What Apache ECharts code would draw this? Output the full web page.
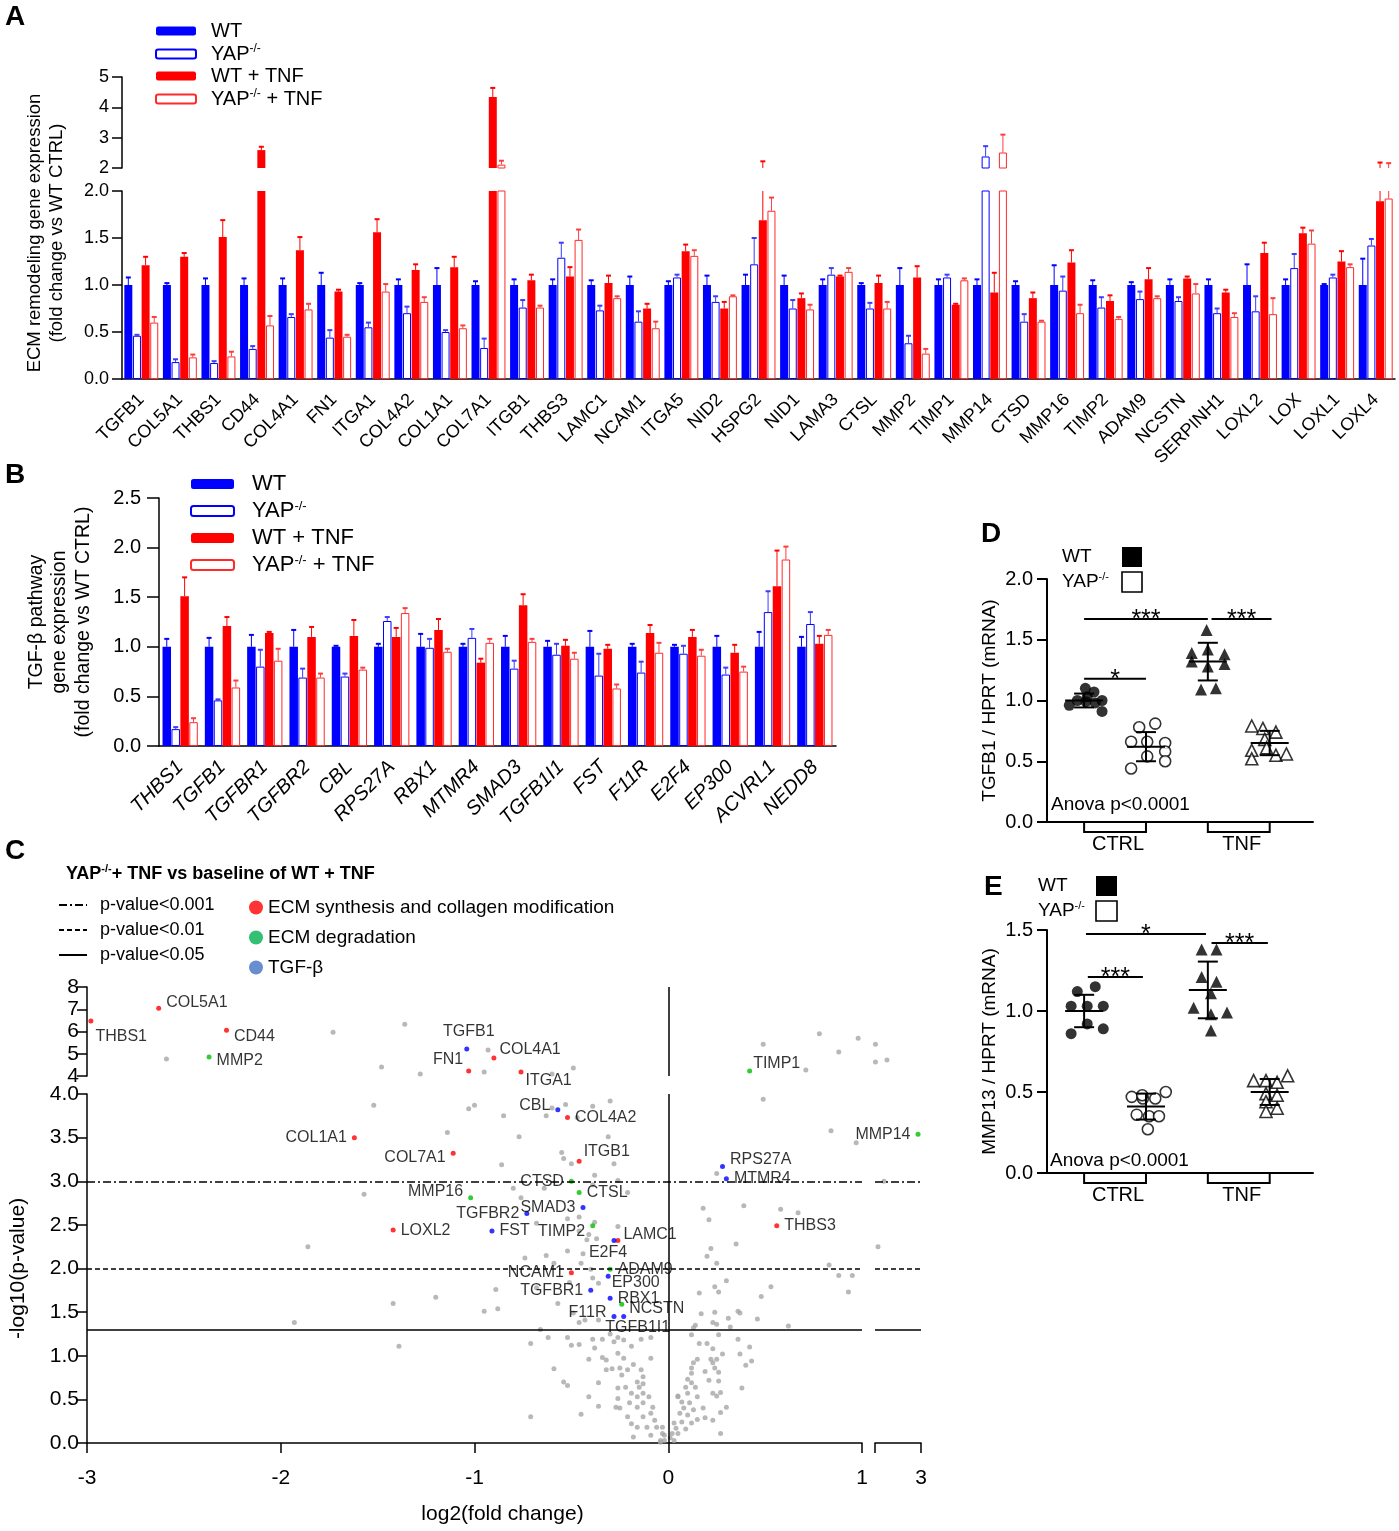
<!DOCTYPE html>
<html><head><meta charset="utf-8">
<script src="https://cdn.jsdelivr.net/npm/echarts@6/dist/echarts.min.js"></script>
<style>html,body{margin:0;padding:0;background:#fff}#c{width:1399px;height:1531px}</style>
</head><body><div id="c"></div>
<script>
// ---------------- DATA ----------------
// Panel A: ECM remodeling genes
const ecmGenes = ['TGFB1','COL5A1','THBS1','CD44','COL4A1','FN1','ITGA1','COL4A2','COL1A1','COL7A1','ITGB1','THBS3','LAMC1','NCAM1','ITGA5','NID2','HSPG2','NID1','LAMA3','CTSL','MMP2','TIMP1','MMP14','CTSD','MMP16','TIMP2','ADAM9','NCSTN','SERPINH1','LOXL2','LOX','LOXL1','LOXL4'];
const ecmWT       = [1,1,1,1,1,1,1,1,1,1,1,1,1,1,1,1,1,1,1,1,1,1,1,1,1,1,1,1,1,1,1,1,1];
const ecmWTerr    = [1.08,1.02,1.07,1.07,1.07,1.13,1.02,1.06,1.18,1.04,1.06,1.06,1.05,1.09,1.04,1.10,1.11,1.10,1.06,1.02,1.18,1.06,1.06,1.04,1.21,1.05,1.03,1.06,1.06,1.22,1.06,1.01,1.28];
const ecmYAP      = [0.46,0.18,0.17,0.32,0.66,0.44,0.55,0.70,0.50,0.33,0.76,1.29,0.73,0.61,1.08,0.82,1.22,0.75,1.11,0.75,0.38,1.08,2.38,0.61,0.94,0.76,0.85,0.83,0.70,0.72,1.18,1.08,1.42];
const ecmYAPerr   = [0.47,0.21,0.19,0.35,0.69,0.52,0.60,0.77,0.52,0.43,0.84,1.45,0.78,0.72,1.11,0.88,1.50,0.84,1.18,0.81,0.46,1.11,2.72,0.69,1.09,0.87,0.93,0.87,0.75,0.88,1.33,1.11,1.49];
const ecmWTTNF    = [1.21,1.30,1.51,2.59,1.37,0.93,1.56,1.16,1.19,4.34,1.05,1.09,1.02,0.75,1.36,0.75,1.69,0.86,1.09,1.02,1.08,0.79,0.92,0.86,1.24,0.83,1.06,1.07,0.92,1.34,1.55,1.25,1.89];
const ecmWTTNFerr = [1.30,1.34,1.69,2.70,1.51,0.95,1.70,1.22,1.30,4.64,1.11,1.19,1.10,0.80,1.43,0.82,2.22,0.91,1.10,1.10,1.20,0.80,1.13,0.92,1.37,0.89,1.18,1.09,0.95,1.45,1.61,1.36,2.18];
const ecmYAPTNF   = [0.60,0.23,0.24,0.57,0.74,0.45,0.93,0.82,0.54,2.11,0.76,1.48,0.86,0.54,1.31,0.88,1.79,0.74,1.14,0.75,0.27,1.05,2.51,0.61,0.70,0.64,0.86,0.91,0.66,0.69,1.44,1.19,1.92];
const ecmYAPTNFerr= [0.66,0.26,0.29,0.67,0.80,0.47,1.01,0.87,0.57,2.24,0.78,1.59,0.88,0.61,1.37,0.89,1.93,0.79,1.18,0.82,0.32,1.07,3.10,0.62,0.79,0.66,0.88,1.01,0.70,0.86,1.58,1.22,2.16];

// Panel B: TGF-beta pathway genes
const tgfGenes = ['THBS1','TGFB1','TGFBR1','TGFBR2','CBL','RPS27A','RBX1','MTMR4','SMAD3','TGFB1I1','FST','F11R','E2F4','EP300','ACVRL1','NEDD8'];
const tgfWT        = [1,1,1,1,1,1,1,1,1,1,1,1,1,1,1,1];
const tgfWTerr     = [1.08,1.09,1.12,1.17,1.01,1.03,1.13,1.03,1.11,1.06,1.16,1.03,1.02,1.11,1.15,1.10];
const tgfYAP       = [0.17,0.46,0.80,0.69,0.70,1.26,0.99,1.09,0.78,0.92,0.71,0.74,0.93,0.72,1.35,1.23];
const tgfYAPerr    = [0.19,0.47,0.97,0.78,0.73,1.30,1.08,1.18,0.86,1.03,0.93,0.85,1.01,0.79,1.56,1.35];
const tgfWTTNF     = [1.51,1.21,1.14,1.10,1.11,1.10,1.17,0.84,1.42,1.01,0.98,1.14,1.10,0.94,1.61,1.03];
const tgfWTTNFerr  = [1.70,1.30,1.15,1.20,1.27,1.19,1.28,0.88,1.53,1.07,1.02,1.22,1.17,1.02,1.97,1.11];
const tgfYAPTNF    = [0.24,0.59,0.86,0.69,0.77,1.34,0.95,1.04,1.05,0.88,0.58,0.94,0.91,0.75,1.88,1.12];
const tgfYAPTNFerr = [0.28,0.66,0.98,0.73,0.79,1.39,0.98,1.08,1.08,0.94,0.62,1.04,0.97,0.80,2.01,1.17];

const seriesNames = ['WT','YAP-/-','WT + TNF','YAP-/- + TNF'];

// Panel C: volcano (log2 fold change, -log10 p)
const synthNames = ['THBS1','COL5A1','CD44','FN1','COL4A1','ITGA1','COL4A2','COL1A1','COL7A1','ITGB1','LOXL2','LAMC1','NCAM1','THBS3'];
const synthFC    = [-2.98,-2.63,-2.28,-1.03,-0.90,-0.76,-0.52,-1.62,-1.11,-0.46,-1.42,-0.26,-0.50,0.56];
const synthP     = [6.47,7.05,6.06,4.22,4.81,4.18,3.73,3.50,3.32,3.23,2.44,2.32,1.95,2.49];
const degrNames  = ['MMP2','CTSD','CTSL','MMP16','TIMP2','ADAM9','NCSTN','TIMP1','MMP14'];
const degrFC     = [-2.37,-0.50,-0.46,-1.02,-0.39,-0.30,-0.24,0.42,2.87];
const degrP      = [4.85,3.00,2.87,2.81,2.49,1.99,1.59,4.22,3.54];
const tgfbNames  = ['TGFB1','CBL','SMAD3','TGFBR2','FST','E2F4','EP300','TGFBR1','RBX1','F11R','TGFB1I1','RPS27A','MTMR4'];
const tgfbFC     = [-1.04,-0.57,-0.44,-0.73,-0.91,-0.28,-0.31,-0.40,-0.30,-0.28,-0.23,0.28,0.30];
const tgfbP      = [5.21,3.82,2.70,2.63,2.43,2.32,1.91,1.75,1.66,1.45,1.45,3.17,3.03];
const otherGenes = [
[-2.59,4.76],[-1.73,5.97],[-1.36,6.33],[-1.48,4.40],[-1.28,4.09],[-0.93,5.17],[-0.95,4.18],[-0.60,4.09],[-0.49,4.36],
[0.49,5.43],[0.78,5.90],[0.98,5.70],[0.88,5.08],[0.71,4.27],[1.02,5.43],[1.02,4.63],[1.52,4.72],
[-1.52,3.87],[-1.03,3.83],[-1.00,3.87],[-0.85,3.75],[-0.63,3.75],[-0.53,3.88],[-0.47,3.73],[-0.39,3.86],[-0.30,3.92],[-0.60,3.84],
[-1.14,3.56],[-0.77,3.51],[-0.31,3.51],[-0.55,3.33],[-0.54,3.26],[-0.50,3.20],[-0.86,3.19],[-0.28,3.20],[-0.38,3.07],[-0.26,3.01],
[-1.57,2.85],[-0.80,2.92],[-0.64,2.92],[-0.39,2.96],[-0.21,2.87],[-0.76,2.81],[-0.46,2.59],[-0.68,2.52],[-0.52,2.57],[-0.38,2.53],[-0.26,2.48],
[-1.86,2.25],[-0.46,2.43],[-0.42,2.33],[-0.37,2.34],[-0.41,2.39],[-0.52,2.20],[-0.74,2.12],[-0.63,2.15],[-0.44,2.17],[-0.59,2.06],[-0.45,2.06],[-0.40,1.99],
[-0.89,1.76],[-0.95,1.51],[-0.88,1.54],[-0.68,1.78],[-0.51,1.84],[-0.39,1.89],[-0.36,1.83],[-0.57,1.60],[-0.49,1.49],[-0.46,1.38],[-0.43,1.41],[-0.36,1.41],
[-1.93,1.38],[-1.39,1.11],[-1.42,1.60],[-1.20,1.67],
[-0.66,1.30],[-0.71,1.14],[-0.62,1.21],[-0.52,1.21],[-0.50,1.12],[-0.46,1.13],[-0.39,1.19],[-0.38,1.09],[-0.34,1.19],[-0.30,1.25],[-0.28,1.16],[-0.26,1.21],[-0.23,1.18],[-0.19,1.11],[-0.14,1.19],[-0.09,1.21],
[-0.34,0.98],[-0.32,0.95],[-0.41,0.96],[-0.26,1.03],[-0.23,0.97],[-0.18,0.90],[-0.09,0.97],[-0.59,0.85],[-0.32,0.84],[-0.29,0.85],[-0.25,0.86],[-0.24,0.78],[-0.21,0.84],[-0.14,0.84],[-0.13,0.76],
[-0.54,0.70],[-0.52,0.66],[-0.36,0.69],[-0.26,0.63],[-0.22,0.64],[-0.16,0.70],[-0.15,0.64],[-0.13,0.68],[-0.41,0.53],[-0.26,0.51],[-0.19,0.57],[-0.16,0.53],[-0.13,0.57],[-0.10,0.53],
[-0.20,0.46],[-0.16,0.41],[-0.13,0.46],[-0.08,0.41],[-0.36,0.42],[-0.27,0.41],[-0.25,0.40],[-0.71,0.30],[-0.45,0.33],[-0.21,0.30],[-0.13,0.30],[-0.09,0.34],[-0.07,0.26],
[-0.19,0.22],[-0.16,0.18],[-0.11,0.18],[-0.06,0.18],[-0.18,0.07],[-0.09,0.09],[-0.03,0.11],[-0.02,0.03],[-0.04,0.01],[0.03,0.03],[0.05,0.53],
[0.49,3.94],[0.84,3.58],[0.97,3.44],[0.25,3.09],[1.39,3.00],[0.18,2.69],[0.39,2.72],[0.58,2.68],[0.67,2.64],[0.21,2.56],[0.35,2.28],[0.22,2.23],[0.20,2.14],[0.25,2.06],
[0.30,1.86],[0.24,1.79],[0.26,1.73],[0.16,1.72],[0.53,1.79],[0.48,1.68],[0.83,2.04],[0.88,1.92],[0.95,1.92],[0.93,1.73],[1.13,2.25],
[0.17,1.48],[0.24,1.50],[0.23,1.38],[0.25,1.36],[0.31,1.43],[0.36,1.51],[0.37,1.49],[0.32,1.33],[0.46,1.42],[0.62,1.34],[0.14,1.35],[0.13,1.32],[0.12,1.24],
[0.16,1.14],[0.20,1.14],[0.26,1.24],[0.23,1.08],[0.36,1.19],[0.42,1.10],[0.28,1.02],[0.37,1.02],[0.43,0.94],[0.40,0.89],[0.15,0.96],[0.13,0.92],[0.12,0.86],[0.22,0.96],[0.23,0.92],[0.25,0.96],[0.24,0.86],[0.26,0.81],[0.19,0.82],[0.12,0.80],
[0.26,0.71],[0.21,0.72],[0.38,0.63],[0.10,0.73],[0.12,0.69],[0.09,0.64],[0.14,0.64],[0.23,0.57],[0.27,0.58],[0.25,0.54],[0.10,0.57],[0.15,0.53],[0.05,0.54],[0.07,0.47],[0.11,0.46],
[0.30,0.41],[0.27,0.35],[0.08,0.40],[0.13,0.38],[0.18,0.40],[0.06,0.34],[0.10,0.32],[0.15,0.27],[0.19,0.29],[0.23,0.26],[0.03,0.23],[0.07,0.24],[0.12,0.23],[0.04,0.17],[0.09,0.16],[0.02,0.11],[0.05,0.11],[0.01,0.06],[0.27,0.11],[-0.03,0.18],[-0.02,0.09],[-0.04,0.03]
];
const pThresholds = [0.001, 0.01, 0.05];
const thresholdNames = ['p-value<0.001','p-value<0.01','p-value<0.05'];

// Panel D: TGFB1 / HPRT (group position, value)
const dWtCtrl  = [[0.76,0.96],[0.89,1.00],[1.02,1.10],[1.16,1.07],[1.29,1.00],[1.03,0.99],[1.18,0.98],[1.29,0.91],[1.05,1.03]];
const dYapCtrl = [[1.76,0.44],[1.89,0.78],[2.15,0.81],[1.76,0.66],[2.02,0.66],[2.31,0.65],[2.02,0.54],[2.31,0.58],[2.31,0.50]];
const dWtTnf   = [[2.98,1.58],[2.74,1.39],[3.00,1.42],[3.27,1.38],[2.74,1.32],[3.27,1.30],[3.00,1.28],[2.89,1.09],[3.13,1.10]];
const dYapTnf  = [[3.71,0.79],[3.89,0.77],[4.10,0.74],[3.92,0.68],[3.71,0.59],[3.95,0.61],[3.71,0.52],[4.10,0.55],[4.27,0.56]];
const dMean = [1.00,0.62,1.32,0.65];
const dSD   = [0.057,0.12,0.155,0.10];
const dSig  = [[1.0,3.0,1.67,3],[3.06,4.03,1.67,3],[1.0,2.0,1.18,1]];
// Panel E: MMP13 / HPRT
const eWtCtrl  = [[0.89,1.12],[1.18,1.15],[0.79,1.03],[1.05,1.03],[1.31,1.03],[1.05,0.92],[0.79,0.86],[1.31,0.89]];
const eYapCtrl = [[1.77,0.47],[1.95,0.46],[2.15,0.46],[2.32,0.50],[1.85,0.36],[2.05,0.35],[2.21,0.35],[2.03,0.27],[1.94,0.48]];
const eWtTnf   = [[2.90,1.38],[3.14,1.38],[2.90,1.21],[3.14,1.18],[3.05,1.11],[2.77,1.02],[3.31,0.99],[3.05,0.98],[3.05,0.88]];
const eYapTnf  = [[3.74,0.57],[3.94,0.57],[4.12,0.56],[4.29,0.60],[3.94,0.49],[4.12,0.48],[3.94,0.44],[3.94,0.38],[4.12,0.40]];
const eMean = [1.00,0.41,1.13,0.50];
const eSD   = [0.10,0.08,0.175,0.08];
const eSig  = [[1.03,2.97,1.475,1],[3.06,3.97,1.42,3],[1.06,1.95,1.21,3]];
const groupLabels = ['CTRL','TNF'];
const groupSpans  = [[1,2],[3,4]];

// ---------------- STYLE ----------------
const FONT = "'Liberation Sans', Arial, sans-serif";
const labelStyle = {
 THBS1:['right',[-3,16]], COL5A1:['right',[0,-6]], CD44:['right',[0,6]], MMP2:['right',[0,4]],
 TGFB1:['top',[2,-2]], FN1:['left',[2,-12]], COL4A1:['right',[-2,-8]], ITGA1:['right',[-3,9]],
 CBL:['left',[0,-4]], COL4A2:['right',[0,0]], COL1A1:['left',[0,0]], COL7A1:['left',[0,4]],
 ITGB1:['right',[-3,-10]], CTSD:['left',[0,0]], CTSL:['right',[0,0]], MMP16:['left',[0,-6]],
 SMAD3:['left',[0,0]], TGFBR2:['left',[0,0]], TIMP2:['left',[0,6]], FST:['right',[0,0]],
 LOXL2:['right',[0,0]], LAMC1:['right',[-2,-6]], E2F4:['bottom',[-6,-3]], ADAM9:['right',[0,0]],
 NCAM1:['left',[0,0]], EP300:['right',[-4,6]], TGFBR1:['left',[0,0]], RBX1:['right',[0,0]],
 NCSTN:['right',[0,4]], F11R:['left',[0,-4]], TGFB1I1:['bottom',[14,-4]], TIMP1:['right',[-4,-8]],
 MMP14:['left',[0,0]], RPS27A:['right',[0,-7]], MTMR4:['right',[0,0]], THBS3:['right',[0,0]]
};
const barStyles = [
 {color:'#0000ff'},
 {color:'#ffffff', borderColor:'#0000ff', borderWidth:1},
 {color:'#ff0000'},
 {color:'#ffffff', borderColor:'#ff2a2a', borderWidth:1}
];
const errColors = ['#0000ff','#3c3cff','#ff0000','#ff3c3c'];
const AX = {color:'#000', width:1.5};

function richName(name){
  if (name.indexOf('YAP-/-') === 0) {
    const rest = name.slice(6);
    return '{b|YAP}{s|-/-}' + (rest ? '{b|' + rest + '}' : '');
  }
  return '{b|' + name + '}';
}
function makeErr(w, gap, n, min, max) {
  return function (params, api) {
    const i = api.value(0), s = api.value(1), v = api.value(2), e = api.value(3);
    const lo = Math.max(v, min), hi = Math.min(e, max);
    if (!(hi > lo)) return null;
    const step = w * (1 + gap);
    const off = -(n * w + (n - 1) * w * gap) / 2 + w / 2 + s * step;
    const a = api.coord([i, lo]), b = api.coord([i, hi]);
    const x = a[0] + off;
    const ch = [{type:'line', shape:{x1:x,y1:a[1],x2:x,y2:b[1]}, style:{stroke:errColors[s], lineWidth:1}}];
    if (e <= max) ch.push({type:'line', shape:{x1:x-2.5,y1:b[1],x2:x+2.5,y2:b[1]}, style:{stroke:errColors[s], lineWidth:2}});
    return {type:'group', children:ch};
  };
}
function errData(vals, errs) {
  const out = [];
  vals.forEach((arr, s) => arr.forEach((v, i) => out.push([i, s, v, errs[s][i]])));
  return out;
}
function meanSdRender(params, api) {
  const x = api.value(0), m = api.value(1), sd = api.value(2);
  const c = api.coord([x, m]), t = api.coord([x, m + sd]), b = api.coord([x, m - sd]);
  const st = {stroke:'#000', lineWidth:2};
  return {type:'group', children:[
    {type:'line', shape:{x1:c[0]-19,y1:c[1],x2:c[0]+19,y2:c[1]}, style:st},
    {type:'line', shape:{x1:c[0],y1:t[1],x2:c[0],y2:b[1]}, style:st},
    {type:'line', shape:{x1:c[0]-10,y1:t[1],x2:c[0]+10,y2:t[1]}, style:st},
    {type:'line', shape:{x1:c[0]-10,y1:b[1],x2:c[0]+10,y2:b[1]}, style:st}
  ]};
}
function sigRender(params, api) {
  const a = api.coord([api.value(0), api.value(2)]), b = api.coord([api.value(1), api.value(2)]);
  const n = api.value(3);
  return {type:'group', children:[
    {type:'line', shape:{x1:a[0],y1:a[1],x2:b[0],y2:b[1]}, style:{stroke:'#000', lineWidth:2}},
    {type:'text', x:(a[0]+b[0])/2, y:a[1]+1, style:{text:'*'.repeat(n), fontSize:25, fontFamily:FONT, fill:'#000', textAlign:'center', textVerticalAlign:'middle'}}
  ]};
}
function bracketRender(params, api) {
  const a = api.coord([api.value(0), 0]), b = api.coord([api.value(1), 0]);
  const y0 = a[1];
  return {type:'group', children:[
    {type:'polyline', shape:{points:[[a[0],y0],[a[0],y0+10],[b[0],y0+10],[b[0],y0]]}, style:{stroke:'#000', lineWidth:2, fill:null}},
    {type:'text', x:(a[0]+b[0])/2+3, y:y0+12, style:{text:groupLabels[params.dataIndex], fontSize:20, fontFamily:FONT, fill:'#000', textAlign:'center', textVerticalAlign:'top'}}
  ]};
}

// ---------------- AXES ----------------
function valY(grid, min, max, interval, fs, dec, margin, tick) {
  return {gridIndex:grid, type:'value', min, max, interval,
    axisLine:{show:true, onZero:false, lineStyle:AX}, axisTick:{show:true, length:tick || 8, lineStyle:AX},
    axisLabel:{fontSize:fs, color:'#000', fontFamily:FONT, margin:margin || 6, formatter: v => dec ? v.toFixed(1) : String(v)},
    splitLine:{show:false}};
}
const xAxis = [
  {gridIndex:0, type:'category', data:ecmGenes, show:false},
  {gridIndex:1, type:'category', data:ecmGenes, axisLine:{onZero:false, lineStyle:AX},
    axisTick:{alignWithLabel:true, length:15, lineStyle:AX},
    axisLabel:{interval:0, rotate:45, fontSize:18, color:'#000', margin:18, fontFamily:FONT}},
  {gridIndex:2, type:'category', data:tgfGenes, axisLine:{onZero:false, lineStyle:AX},
    axisTick:{alignWithLabel:true, length:14, lineStyle:AX},
    axisLabel:{interval:0, rotate:45, fontSize:20, fontStyle:'italic', color:'#000', margin:18, fontFamily:FONT}},
  {gridIndex:3, type:'value', min:-3, max:1, show:false},
  {gridIndex:4, type:'value', min:-3, max:1, interval:1, axisLine:{onZero:false, lineStyle:AX},
    axisTick:{length:10, lineStyle:AX}, splitLine:{show:false},
    axisLabel:{fontSize:21, color:'#000', margin:25, fontFamily:FONT},
    name:'log2(fold change)', nameLocation:'middle', nameGap:61,
    nameTextStyle:{fontSize:21, color:'#000', fontFamily:FONT, padding:[0,0,0,56]}},
  {gridIndex:5, type:'value', min:1, max:3, show:false},
  {gridIndex:6, type:'value', min:1, max:3, interval:2, axisLine:{onZero:false, lineStyle:AX},
    axisTick:{length:10, lineStyle:AX}, splitLine:{show:false},
    axisLabel:{fontSize:21, color:'#000', margin:25, fontFamily:FONT, formatter: v => v === 3 ? '3' : ''}},
  {gridIndex:7, type:'value', min:0.4, max:4.7, axisLine:{onZero:false, lineStyle:{color:'#000', width:2}}, axisTick:{show:false}, axisLabel:{show:false}, splitLine:{show:false}},
  {gridIndex:8, type:'value', min:0.4, max:4.7, axisLine:{onZero:false, lineStyle:{color:'#000', width:2}}, axisTick:{show:false}, axisLabel:{show:false}, splitLine:{show:false}}
];
const yD = valY(7, 0, 2, 0.5, 20, true, 14, 10);
yD.axisLine.lineStyle = {color:'#000', width:2}; yD.axisTick.lineStyle = {color:'#000', width:2};
Object.assign(yD, {name:'TGFB1 / HPRT (mRNA)', nameLocation:'middle', nameGap:48, nameTextStyle:{fontSize:19, color:'#000', fontFamily:FONT}});
const yE = valY(8, 0, 1.5, 0.5, 20, true, 14, 10);
yE.axisLine.lineStyle = {color:'#000', width:2}; yE.axisTick.lineStyle = {color:'#000', width:2};
Object.assign(yE, {name:'MMP13 / HPRT (mRNA)', nameLocation:'middle', nameGap:48, nameTextStyle:{fontSize:19, color:'#000', fontFamily:FONT}});
const yC = valY(4, 0, 4, 0.5, 21, true, 8, 10);
Object.assign(yC, {name:'-log10(p-value)', nameLocation:'middle', nameGap:58, nameTextStyle:{fontSize:21, color:'#000', fontFamily:FONT}});
const yCt = valY(3, 4, 8, 1, 21, false, 8, 10);
const yAxis = [
  valY(0, 2, 5, 1, 18, false, 13, 10),
  valY(1, 0, 2, 0.5, 18, true, 13, 10),
  valY(2, 0, 2.5, 0.5, 20, true, 18, 12),
  yCt,
  yC,
  {gridIndex:5, type:'value', min:4, max:8, show:false},
  {gridIndex:6, type:'value', min:0, max:4, show:false},
  yD, yE
];

// ---------------- SERIES ----------------
const series = [];
const ecmVals = [ecmWT, ecmYAP, ecmWTTNF, ecmYAPTNF];
const ecmErrs = [ecmWTerr, ecmYAPerr, ecmWTTNFerr, ecmYAPTNFerr];
const tgfVals = [tgfWT, tgfYAP, tgfWTTNF, tgfYAPTNF];
const tgfErrs = [tgfWTerr, tgfYAPerr, tgfWTTNFerr, tgfYAPTNFerr];
for (let s = 0; s < 4; s++) {
  series.push({type:'bar', name:seriesNames[s], xAxisIndex:0, yAxisIndex:0, barWidth:8, barGap:'8%',
    data: ecmVals[s].map(v => v > 2 ? v : '-'), itemStyle:barStyles[s], silent:true});
  series.push({type:'bar', name:seriesNames[s], xAxisIndex:1, yAxisIndex:1, barWidth:8, barGap:'8%',
    data: ecmVals[s], itemStyle:barStyles[s], silent:true});
  series.push({type:'bar', name:seriesNames[s], xAxisIndex:2, yAxisIndex:2, barWidth:8.5, barGap:'5%',
    data: tgfVals[s], itemStyle:barStyles[s], silent:true});
}
series.push({type:'custom', name:'errA-top', xAxisIndex:0, yAxisIndex:0, data:errData(ecmVals, ecmErrs), encode:{x:0, y:3}, renderItem:makeErr(8, 0.08, 4, 2, 5), silent:true, z:5});
series.push({type:'custom', name:'errA-bottom', xAxisIndex:1, yAxisIndex:1, data:errData(ecmVals, ecmErrs), encode:{x:0, y:3}, renderItem:makeErr(8, 0.08, 4, 0, 2), silent:true, z:5});
series.push({type:'custom', name:'errB', xAxisIndex:2, yAxisIndex:2, data:errData(tgfVals, tgfErrs), encode:{x:0, y:3}, renderItem:makeErr(8.5, 0.05, 4, 0, 2.5), silent:true, z:5});

// Panel C
const quads = [['MT',3],['MB',4],['RT',5],['RB',6]];
function quadOf(x, y) { return (x > 1 ? 'R' : 'M') + (y > 4 ? 'T' : 'B'); }
const dashTypes = [[8,3,2,3], [5,3], 'solid'];
pThresholds.forEach((p, k) => {
  [4, 6].forEach(ax => {
    series.push({type:'line', name:thresholdNames[k], xAxisIndex:ax, yAxisIndex:ax, data:[], symbol:'none', showSymbol:false,
      itemStyle:{color:'#000', opacity:0}, lineStyle:{color:'#000', width:1.5, type:dashTypes[k]}, silent:true,
      markLine:{silent:true, symbol:'none', label:{show:false}, lineStyle:{color:'#000', width:1.5, type:dashTypes[k]},
        data:[{yAxis:-Math.log10(p)}]}});
  });
});
quads.forEach(([q, ax]) => {
  const s = {type:'scatter', name:'other genes', xAxisIndex:ax, yAxisIndex:ax, symbolSize:5, silent:true,
    itemStyle:{color:'#a6a6a6'}, data: otherGenes.filter(p => quadOf(p[0], p[1]) === q), z:2};
  if (q === 'MT' || q === 'MB') s.markLine = {silent:true, symbol:'none', label:{show:false}, lineStyle:{color:'#000', width:1.5, type:'solid'}, data:[{xAxis:0}]};
  series.push(s);
});
const cats = [
  ['ECM synthesis and collagen modification', synthNames, synthFC, synthP, '#ff0000'],
  ['ECM degradation', degrNames, degrFC, degrP, '#00c000'],
  ['TGF-β', tgfbNames, tgfbFC, tgfbP, '#0000ff']
];
cats.forEach(([cname, names, fc, pv, col]) => {
  quads.forEach(([q, ax]) => {
    const data = [];
    names.forEach((g, k) => {
      if (quadOf(fc[k], pv[k]) !== q) return;
      const ls = labelStyle[g] || ['right',[0,0]];
      data.push({name:g, value:[fc[k], pv[k]], label:{show:true, position:ls[0], offset:ls[1], formatter:'{b}', distance:5}});
    });
    series.push({type:'scatter', name:cname, xAxisIndex:ax, yAxisIndex:ax, symbolSize:5, silent:true,
      itemStyle:{color:col}, label:{fontSize:16, color:'#000', fontFamily:FONT}, data, z:4});
  });
});

// Panels D, E
function dotSeries(ax, data, symbol, filled) {
  return {type:'scatter', xAxisIndex:ax, yAxisIndex:ax, data, symbol, symbolSize: symbol === 'triangle' ? 12 : 11, silent:true,
    itemStyle: filled ? {color:'#000'} : {color:'#fff', borderColor:'#000', borderWidth:1.6}, z:3};
}
[[7, [dWtCtrl, dYapCtrl, dWtTnf, dYapTnf], dMean, dSD, dSig], [8, [eWtCtrl, eYapCtrl, eWtTnf, eYapTnf], eMean, eSD, eSig]].forEach(([ax, groups, mean, sd, sig]) => {
  series.push(Object.assign(dotSeries(ax, groups[0], 'circle', true), {name:'WT CTRL'}));
  series.push(Object.assign(dotSeries(ax, groups[1], 'circle', false), {name:'YAP CTRL'}));
  series.push(Object.assign(dotSeries(ax, groups[2], 'triangle', true), {name:'WT TNF'}));
  series.push(Object.assign(dotSeries(ax, groups[3], 'triangle', false), {name:'YAP TNF'}));
  series.push({type:'custom', name:'meanSD', xAxisIndex:ax, yAxisIndex:ax, data: mean.map((m, k) => [k + 1, m, sd[k]]), encode:{x:0, y:1}, renderItem:meanSdRender, silent:true, z:6});
  series.push({type:'custom', name:'sig', xAxisIndex:ax, yAxisIndex:ax, data: sig, encode:{x:0, y:2}, renderItem:sigRender, silent:true, z:6});
  series.push({type:'custom', name:'groups', xAxisIndex:ax, yAxisIndex:ax, data: groupSpans, encode:{x:0}, renderItem:bracketRender, silent:true, z:6, clip:false});
});

// ---------------- LEGENDS / GRAPHIC ----------------
const richAB = fs => ({b:{fontSize:fs, fontFamily:FONT, color:'#000', lineHeight:22}, s:{fontSize:Math.round(fs*0.6), fontFamily:FONT, color:'#000', verticalAlign:'top', lineHeight:12}});
const legend = [
  {data:seriesNames, orient:'vertical', left:150, top:16, itemWidth:40, itemHeight:9, itemGap:2, formatter:richName,
    textStyle:{padding:[0,0,0,10], rich:richAB(20)}, selectedMode:false},
  {data:seriesNames, orient:'vertical', left:185, top:468, itemWidth:43, itemHeight:10, itemGap:5, formatter:richName,
    textStyle:{padding:[0,0,0,13], rich:richAB(22)}, selectedMode:false},
  {data:thresholdNames, orient:'vertical', left:53, top:891, itemWidth:28, itemHeight:10, itemGap:7, selectedMode:false,
    itemStyle:{opacity:0},
    textStyle:{fontSize:18, color:'#000', fontFamily:FONT, padding:[0,0,0,8]}},
  {data:[{name:'ECM synthesis and collagen modification'}, {name:'ECM degradation', itemStyle:{color:'#00b050'}}, {name:'TGF-β', itemStyle:{color:'#4472c4'}}],
    orient:'vertical', left:244, top:893, itemWidth:14, itemHeight:14, itemGap:11, icon:'circle', selectedMode:false,
    textStyle:{fontSize:19, color:'#000', fontFamily:FONT}}
];
const supRich = fs => ({a:{fontSize:fs, fontFamily:FONT, fill:'#000', lineHeight:22}, s:{fontSize:Math.round(fs*0.6), fontFamily:FONT, fill:'#000', verticalAlign:'top', lineHeight:12}});
function gText(x, y, text, fs, opts) {
  return {type:'text', x, y, style:Object.assign({text, fontSize:fs, fontFamily:FONT, fill:'#000', textVerticalAlign:'middle'}, opts || {})};
}
function vText(x, y, text, fs) {
  return {type:'text', x, y, rotation:Math.PI/2, style:{text, fontSize:fs, fontFamily:FONT, fill:'#000', textAlign:'center', textVerticalAlign:'middle'}};
}
const graphic = [
  gText(5, 17, 'A', 28, {fontWeight:'bold'}),
  gText(5, 475, 'B', 28, {fontWeight:'bold'}),
  gText(5, 851, 'C', 28, {fontWeight:'bold'}),
  gText(981, 534, 'D', 28, {fontWeight:'bold'}),
  gText(984, 887, 'E', 28, {fontWeight:'bold'}),
  vText(35, 233, 'ECM remodeling gene expression', 18.5),
  vText(57, 233, '(fold change vs WT CTRL)', 18.5),
  vText(37, 622, 'TGF-β pathway', 19.5),
  vText(60, 622, 'gene expression', 19.5),
  vText(84, 622, '(fold change vs WT CTRL)', 19.5),
  {type:'text', x:66, y:874, style:{text:'{a|YAP}{s|-/-}{a|+ TNF vs baseline of WT + TNF}', textVerticalAlign:'middle',
    rich:{a:{fontSize:18, fontWeight:'bold', fontFamily:FONT, fill:'#000', lineHeight:22}, s:{fontSize:11, fontWeight:'bold', fontFamily:FONT, fill:'#000', verticalAlign:'top', lineHeight:11}}}},
  // D legend
  gText(1062, 557, 'WT', 19),
  {type:'rect', shape:{x:1122, y:547, width:20, height:20}, style:{fill:'#000'}},
  {type:'text', x:1062, y:582, style:{text:'{a|YAP}{s|-/-}', textVerticalAlign:'middle', rich:supRich(19)}},
  {type:'rect', shape:{x:1122, y:572, width:20, height:20}, style:{fill:'#fff', stroke:'#000', lineWidth:1.6}},
  gText(1051, 805, 'Anova p<0.0001', 19),
  // E legend
  gText(1038, 886, 'WT', 19),
  {type:'rect', shape:{x:1096, y:876, width:21, height:20}, style:{fill:'#000'}},
  {type:'text', x:1038, y:911, style:{text:'{a|YAP}{s|-/-}', textVerticalAlign:'middle', rich:supRich(19)}},
  {type:'rect', shape:{x:1096, y:901, width:21, height:20}, style:{fill:'#fff', stroke:'#000', lineWidth:1.6}},
  gText(1050, 1161, 'Anova p<0.0001', 19)
];

const option = {
  animation:false,
  backgroundColor:'#fff',
  textStyle:{fontFamily:FONT, color:'#000'},
  grid:[
    {left:122, top:77, width:1273, height:91},
    {left:122, top:191, width:1273, height:188},
    {left:159, top:498, width:677, height:248},
    {left:87, top:987, width:775, height:89},
    {left:87, top:1094, width:775, height:349},
    {left:875, top:987, width:46, height:89},
    {left:875, top:1094, width:46, height:349},
    {left:1047, top:579, width:266, height:243},
    {left:1047, top:930, width:266, height:243}
  ],
  xAxis, yAxis, legend, series, graphic
};
const chart = echarts.init(document.getElementById('c'));
chart.setOption(option);
</script></body></html>
